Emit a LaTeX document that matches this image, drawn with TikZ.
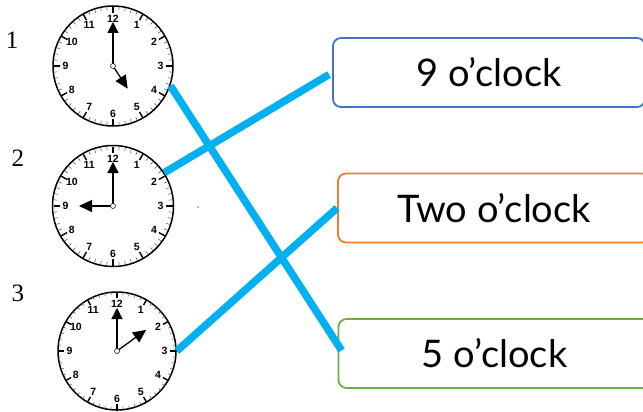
\documentclass[tikz,border=0pt]{standalone}
\usepackage{fontspec}
\setmainfont{Liberation Serif}
\newfontfamily\boxfont{Lato}
\newfontfamily\numfont{Liberation Sans}
\usetikzlibrary{arrows.meta}
\definecolor{linkblue}{HTML}{00B0F0}
\definecolor{boxblue}{HTML}{4472C4}
\definecolor{boxorange}{HTML}{ED7D31}
\definecolor{boxgreen}{HTML}{70AD47}
\definecolor{dotblue}{HTML}{6A6AF0}
\tikzset{
  clockface/.style={circle, draw, line width=1.5pt, minimum size=#1, inner sep=0pt, fill=white},
  answerbox/.style={draw=#1, rounded corners=8pt, line width=1.8pt, minimum width=312pt,
     minimum height=69pt, inner sep=0pt, font=\boxfont\fontsize{38}{44}\selectfont},
  qlabel/.style={font=\fontsize{25}{28}\selectfont, inner sep=0pt},
  link/.style={draw=linkblue, line width=7.5pt},
  hand/.style={line width=1.3pt, -{Triangle[length=11pt,width=11pt]}},
  hourhand/.style={line width=1.3pt, -{Triangle[length=13pt,width=12pt]}},
  clocknum/.style={font=\numfont\bfseries\fontsize{10.5}{12}\selectfont, inner sep=0pt},
}
\newcommand\clockdial{%
  \foreach \m in {0,...,59}{\draw[line width=0.5pt, black!70] (\m*6:56) -- (\m*6:59.5);}
  \foreach \h in {0,...,11}{\draw[line width=1.4pt] (\h*30:53) -- (\h*30:59.5);}
  \foreach \k in {1,...,12}{\node[clocknum] at (90-\k*30:47.5) {\k};}
}
\begin{document}
\begin{tikzpicture}[x=1pt,y=-1pt]
\useasboundingbox (0,0) rectangle (643,412);

% question labels
\node[qlabel] (l1) at (12,40) {1};
\node[qlabel] (l2) at (18,158) {2};
\node[qlabel] (l3) at (18,293) {3};

% clock 1 : five o'clock
\node[clockface=120pt] (c1) at (113,66) {};
\begin{scope}[shift={(c1.center)}, yscale=-1]
  \clockdial
  \draw[hand] (0,0) -- (90:44);
  \draw[hourhand] (0,0) -- (-57:27);
  \draw[line width=0.5pt, fill=white] (0,0) circle (2.5);
\end{scope}

% clock 2 : nine o'clock
\node[clockface=121pt] (c2) at (113,206) {};
\begin{scope}[shift={(c2.center)}, yscale=-1]
  \clockdial
  \draw[hand] (0,0) -- (90:44);
  \draw[hourhand] (0,0) -- (180:34);
  \draw[line width=0.5pt, fill=white] (0,0) circle (2.5);
\end{scope}

% clock 3 : two o'clock
\node[clockface=118pt] (c3) at (117,351) {};
\begin{scope}[shift={(c3.center)}, yscale=-1]
  \clockdial
  \draw[hand] (0,0) -- (90:43);
  \draw[hourhand] (0,0) -- (36:36);
  \draw[line width=0.5pt, fill=white] (0,0) circle (2.5);
\end{scope}

% answer boxes
\node[answerbox=boxblue] (b1) at (489,72.5) {9 o’clock};
\node[answerbox=boxorange] (b2) at (494,208) {Two o’clock};
\node[answerbox=boxgreen] (b3) at (494.5,353.5) {5 o’clock};

% stray dot
\fill[dotblue] (198,207) circle (0.8);

% matching lines
\draw[link] (c1.-19) -- ([xshift=4pt,yshift=3pt]b3.west);
\draw[link] (c2.33) -- ([xshift=-3pt,yshift=-2pt]b1.west);
\draw[link] (c3.0) -- (b2.west);
\end{tikzpicture}
\end{document}
